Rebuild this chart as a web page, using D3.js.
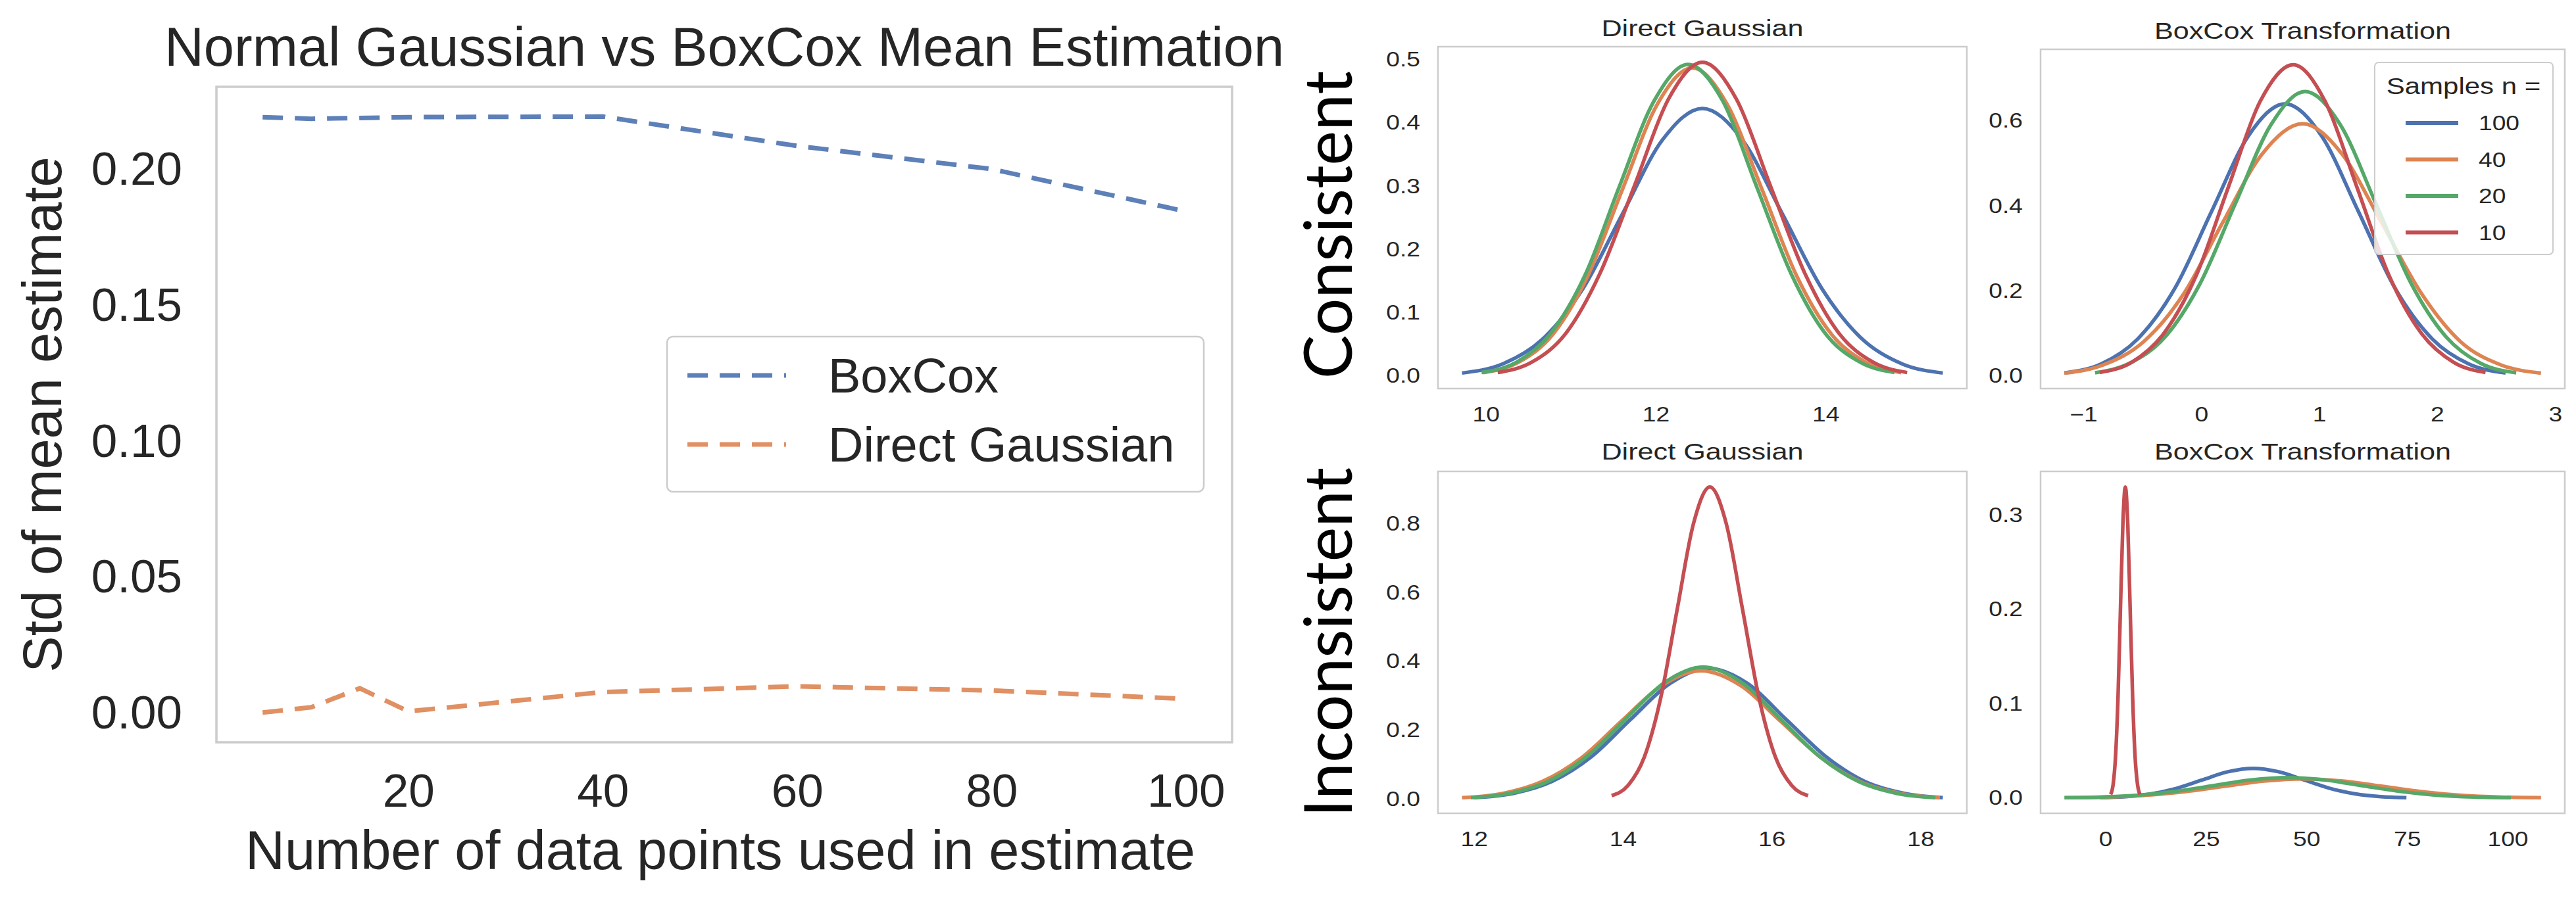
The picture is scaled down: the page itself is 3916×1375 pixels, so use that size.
<!DOCTYPE html>
<html>
<head>
<meta charset="utf-8">
<script src="https://cdn.jsdelivr.net/npm/d3@7"></script>
<style>
  body { margin: 0; background: #fff; }
</style>
</head>
<body>
<div id="chart"></div>
<script>
// ---- DATA ----

// left panel: std of the mean estimate vs number of points
const nPoints = [5, 10, 15, 20, 40, 60, 80, 100];
const boxcoxStd = [0.2193, 0.2187, 0.2190, 0.2193, 0.2195, 0.2087, 0.2002, 0.1846];
const directStd = [0.0003, 0.0022, 0.0092, 0.0007, 0.0078, 0.0099, 0.0084, 0.0053];
const leftSeries = ["BoxCox", "Direct Gaussian"];
const leftXTicks = [20, 40, 60, 80, 100];
const leftYTicks = [0, 0.05, 0.10, 0.15, 0.20];

// right panels: density curves, one per sample size, [x, density]
const sampleSizes = [100, 40, 20, 10];
const seriesColors = ["#4C72B0", "#DD8452", "#55A868", "#C44E52"];

const consDirect100 = [[9.72,0.0047],[10.19,0.0186],[10.66,0.0572],[11.14,0.1373],[11.61,0.2565],[12.08,0.3733],[12.55,0.423],[13.02,0.3733],[13.49,0.2565],[13.96,0.1373],[14.44,0.0572],[14.91,0.0186],[15.38,0.0047]];
const consDirect40 = [[9.97,0.0054],[10.38,0.0214],[10.79,0.0659],[11.20,0.1581],[11.61,0.2954],[12.02,0.4298],[12.43,0.487],[12.84,0.4298],[13.25,0.2954],[13.66,0.1581],[14.07,0.0659],[14.48,0.0214],[14.89,0.0054]];
const consDirect20 = [[9.95,0.0055],[10.36,0.0216],[10.76,0.0666],[11.17,0.1599],[11.57,0.2987],[11.98,0.4346],[12.38,0.4925],[12.79,0.4346],[13.19,0.2987],[13.60,0.1599],[14.00,0.0666],[14.41,0.0216],[14.81,0.0055]];
const consDirect10 = [[10.14,0.0055],[10.54,0.0218],[10.94,0.0671],[11.34,0.1611],[11.75,0.3008],[12.15,0.4377],[12.55,0.496],[12.95,0.4377],[13.35,0.3008],[13.76,0.1611],[14.16,0.0671],[14.56,0.0218],[14.96,0.0055]];

const consBoxcox100 = [[-1.16,0.0071],[-0.85,0.0281],[-0.54,0.0866],[-0.22,0.2078],[0.09,0.3882],[0.40,0.5648],[0.71,0.640],[1.02,0.5648],[1.33,0.3882],[1.64,0.2078],[1.96,0.0866],[2.27,0.0281],[2.58,0.0071]];
const consBoxcox40 = [[-1.16,0.0066],[-0.83,0.0260],[-0.49,0.0802],[-0.15,0.1925],[0.18,0.3597],[0.52,0.5233],[0.86,0.593],[1.19,0.5233],[1.53,0.3597],[1.87,0.1925],[2.20,0.0802],[2.54,0.0260],[2.88,0.0066]];
const consBoxcox20 = [[-0.90,0.0074],[-0.61,0.0294],[-0.31,0.0905],[-0.01,0.2172],[0.29,0.4057],[0.59,0.5904],[0.88,0.669],[1.18,0.5904],[1.48,0.4057],[1.78,0.2172],[2.08,0.0905],[2.37,0.0294],[2.67,0.0074]];
const consBoxcox10 = [[-0.86,0.0081],[-0.59,0.0321],[-0.32,0.0990],[-0.04,0.2377],[0.23,0.4440],[0.50,0.6460],[0.78,0.732],[1.05,0.6460],[1.32,0.4440],[1.59,0.2377],[1.87,0.0990],[2.14,0.0321],[2.41,0.0081]];

const inconsDirect100 = [[12.00,0.0042],[12.53,0.0167],[13.05,0.0514],[13.58,0.1234],[14.10,0.2305],[14.63,0.3354],[15.15,0.380],[15.68,0.3354],[16.20,0.2305],[16.73,0.1234],[17.25,0.0514],[17.78,0.0167],[18.30,0.0042]];
const inconsDirect40 = [[11.84,0.0041],[12.38,0.0164],[12.91,0.0505],[13.45,0.1211],[13.98,0.2262],[14.52,0.3292],[15.05,0.373],[15.59,0.3292],[16.12,0.2262],[16.66,0.1211],[17.19,0.0505],[17.73,0.0164],[18.26,0.0041]];
const inconsDirect20 = [[11.96,0.0043],[12.48,0.0168],[13.00,0.0519],[13.52,0.1246],[14.04,0.2327],[14.56,0.3385],[15.08,0.3836],[15.60,0.3385],[16.12,0.2327],[16.64,0.1246],[17.16,0.0519],[17.68,0.0168],[18.20,0.0043]];
const inconsDirect10 = [[13.85,0.0101],[14.07,0.0398],[14.29,0.1227],[14.51,0.2944],[14.73,0.5499],[14.95,0.8002],[15.17,0.9067],[15.39,0.8002],[15.61,0.5499],[15.83,0.2944],[16.05,0.1227],[16.27,0.0398],[16.49,0.0101]];

const inconsBoxcox100 = [[-1.35,0.00035],[5.00,0.00138],[11.35,0.00425],[17.70,0.0102],[24.05,0.0190],[30.40,0.0277],[36.75,0.0314],[43.10,0.0277],[49.45,0.0190],[55.80,0.0102],[62.15,0.00425],[68.50,0.00138],[74.85,0.00035]];
const inconsBoxcox40 = [[-9.90,0.00022],[-0.05,0.00089],[9.80,0.00274],[19.65,0.00658],[29.50,0.01228],[39.35,0.01787],[49.20,0.02025],[59.05,0.01787],[68.90,0.01228],[78.75,0.00658],[88.60,0.00274],[98.45,0.00089],[108.30,0.00022]];
const inconsBoxcox20 = [[-10.20,0.00024],[-0.95,0.00095],[8.30,0.00292],[17.55,0.0070],[26.80,0.01308],[36.05,0.01903],[45.30,0.02156],[54.55,0.01903],[63.80,0.01308],[73.05,0.0070],[82.30,0.00292],[91.55,0.00095],[100.80,0.00024]];
const inconsBoxcox10 = [[1.32,0.0037],[1.93,0.0145],[2.53,0.0446],[3.14,0.1071],[3.74,0.2000],[4.35,0.2910],[4.95,0.3297],[5.56,0.2910],[6.16,0.2000],[6.77,0.1071],[7.37,0.0446],[7.98,0.0145],[8.58,0.0037]];

const consDirectXTicks = [10, 12, 14];
const consDirectYTicks = [0, 0.1, 0.2, 0.3, 0.4, 0.5];
const consBoxcoxXTicks = [-1, 0, 1, 2, 3];
const consBoxcoxYTicks = [0, 0.2, 0.4, 0.6];
const inconsDirectXTicks = [12, 14, 16, 18];
const inconsDirectYTicks = [0, 0.2, 0.4, 0.6, 0.8];
const inconsBoxcoxXTicks = [0, 25, 50, 75, 100];
const inconsBoxcoxYTicks = [0, 0.1, 0.2, 0.3];

// ---- SETUP ----
const W = 3916, H = 1375;
const textColor = "#262626";
const frameColor = "#cccccc";
const sansFont = "'Liberation Sans', Arial, sans-serif";
// the right-hand figure in the reference is stretched sideways a bit
const SX = 1.2;

const svg = d3.select("#chart").append("svg")
    .attr("width", W)
    .attr("height", H)
    .style("background", "#fff");

// matplotlib style 5% margin around the data
const padded = ext => {
    const m = (ext[1] - ext[0]) * 0.05;
    return [ext[0] - m, ext[1] + m];
};

// ---- LEFT PANEL ----
const lf = { x: 329, y: 132, w: 1544, h: 997 };

const lx = d3.scaleLinear()
    .domain(padded(d3.extent(nPoints)))
    .range([lf.x, lf.x + lf.w]);
const ly = d3.scaleLinear()
    .domain(padded(d3.extent(boxcoxStd.concat(directStd))))
    .range([lf.y + lf.h, lf.y]);

svg.append("rect")
    .attr("x", lf.x).attr("y", lf.y)
    .attr("width", lf.w).attr("height", lf.h)
    .attr("fill", "none")
    .attr("stroke", frameColor)
    .attr("stroke-width", 3.5);

svg.append("g")
    .attr("transform", `translate(0,${lf.y + lf.h})`)
    .call(d3.axisBottom(lx).tickValues(leftXTicks).tickSize(0).tickPadding(48).tickFormat(d3.format("d")))
    .call(g => g.select(".domain").remove())
    .attr("font-size", 71)
    .attr("font-family", sansFont)
    .attr("color", textColor);

svg.append("g")
    .attr("transform", `translate(${lf.x},0)`)
    .call(d3.axisLeft(ly).tickValues(leftYTicks).tickSize(0).tickPadding(52).tickFormat(d3.format(".2f")))
    .call(g => g.select(".domain").remove())
    .attr("font-size", 71)
    .attr("font-family", sansFont)
    .attr("color", textColor);

const leftLine = d3.line()
    .x((d, i) => lx(nPoints[i]))
    .y(d => ly(d));

[boxcoxStd, directStd].forEach((vals, i) => {
    svg.append("path")
        .datum(vals)
        .attr("d", leftLine)
        .attr("fill", "none")
        .attr("stroke", seriesColors[i])
        .attr("stroke-opacity", 0.9)
        .attr("stroke-width", 7)
        .attr("stroke-dasharray", "31,18");
});

// title + axis labels
svg.append("text")
    .attr("x", lf.x + lf.w / 2).attr("y", 100)
    .attr("text-anchor", "middle")
    .attr("font-family", sansFont).attr("font-size", 83)
    .attr("fill", textColor)
    .text("Normal Gaussian vs BoxCox Mean Estimation");

svg.append("text")
    .attr("x", lf.x + lf.w / 2 - 6).attr("y", 1322)
    .attr("text-anchor", "middle")
    .attr("font-family", sansFont).attr("font-size", 83)
    .attr("fill", textColor)
    .text("Number of data points used in estimate");

svg.append("text")
    .attr("transform", `translate(93,${lf.y + lf.h / 2}) rotate(-90)`)
    .attr("text-anchor", "middle")
    .attr("font-family", sansFont).attr("font-size", 83)
    .attr("fill", textColor)
    .text("Std of mean estimate");

// legend
const leftLegend = svg.append("g");
leftLegend.append("rect")
    .attr("x", 1014).attr("y", 512)
    .attr("width", 816).attr("height", 236)
    .attr("rx", 9)
    .attr("fill", "#fff").attr("fill-opacity", 0.8)
    .attr("stroke", frameColor).attr("stroke-width", 2.5);

leftSeries.forEach((name, i) => {
    const yy = 571 + i * 105;
    leftLegend.append("line")
        .attr("x1", 1045).attr("x2", 1195)
        .attr("y1", yy).attr("y2", yy)
        .attr("stroke", seriesColors[i])
        .attr("stroke-opacity", 0.9)
        .attr("stroke-width", 7)
        .attr("stroke-dasharray", "31,18");
    leftLegend.append("text")
        .attr("x", 1259).attr("y", yy + 26)
        .attr("font-family", sansFont).attr("font-size", 74)
        .attr("fill", textColor)
        .text(name);
});

// ---- RIGHT PANELS ----
const panels = [
    { frame: { x: 2186, y: 71, w: 804, h: 520 }, curves: [consDirect100, consDirect40, consDirect20, consDirect10],
      xTicks: consDirectXTicks, yTicks: consDirectYTicks, title: "Direct Gaussian", titleY: 55 },
    { frame: { x: 3102, y: 75, w: 797, h: 516 }, curves: [consBoxcox100, consBoxcox40, consBoxcox20, consBoxcox10],
      xTicks: consBoxcoxXTicks, yTicks: consBoxcoxYTicks, title: "BoxCox Transformation", titleY: 59, legend: true },
    { frame: { x: 2186, y: 717, w: 804, h: 520 }, curves: [inconsDirect100, inconsDirect40, inconsDirect20, inconsDirect10],
      xTicks: inconsDirectXTicks, yTicks: inconsDirectYTicks, title: "Direct Gaussian", titleY: 699 },
    { frame: { x: 3102, y: 717, w: 797, h: 520 }, curves: [inconsBoxcox100, inconsBoxcox40, inconsBoxcox20, inconsBoxcox10],
      xTicks: inconsBoxcoxXTicks, yTicks: inconsBoxcoxYTicks, title: "BoxCox Transformation", titleY: 699 }
];

// stretch tick labels sideways, keep their anchor point where d3 put it
const stretchTicks = g => {
    g.selectAll(".tick text").each(function () {
        const t = d3.select(this);
        t.attr("x", (+t.attr("x") || 0) / SX)
         .attr("transform", `scale(${SX},1)`);
    });
};

panels.forEach(p => {
    const f = p.frame;
    const allPts = p.curves.flat();

    const x = d3.scaleLinear()
        .domain(padded(d3.extent(allPts, d => d[0])))
        .range([f.x, f.x + f.w]);
    const y = d3.scaleLinear()
        .domain(padded(d3.extent(allPts, d => d[1])))
        .range([f.y + f.h, f.y]);

    svg.append("rect")
        .attr("x", f.x).attr("y", f.y)
        .attr("width", f.w).attr("height", f.h)
        .attr("fill", "none")
        .attr("stroke", frameColor)
        .attr("stroke-width", 2.5);

    svg.append("g")
        .attr("transform", `translate(0,${f.y + f.h})`)
        .call(d3.axisBottom(x).tickValues(p.xTicks).tickSize(0).tickPadding(28).tickFormat(d3.format("d")))
        .call(g => g.select(".domain").remove())
        .call(stretchTicks)
        .attr("font-size", 31)
        .attr("font-family", sansFont)
        .attr("color", textColor);

    svg.append("g")
        .attr("transform", `translate(${f.x},0)`)
        .call(d3.axisLeft(y).tickValues(p.yTicks).tickSize(0).tickPadding(27).tickFormat(d3.format(".1f")))
        .call(g => g.select(".domain").remove())
        .call(stretchTicks)
        .attr("font-size", 31)
        .attr("font-family", sansFont)
        .attr("color", textColor);

    const curve = d3.line()
        .x(d => x(d[0]))
        .y(d => y(d[1]))
        .curve(d3.curveMonotoneX);

    p.curves.forEach((pts, i) => {
        svg.append("path")
            .datum(pts)
            .attr("d", curve)
            .attr("fill", "none")
            .attr("stroke", seriesColors[i])
            .attr("stroke-width", 5.5)
            .attr("stroke-linejoin", "round");
    });

    svg.append("text")
        .attr("transform", `translate(${f.x + f.w / 2},${p.titleY}) scale(${SX},1)`)
        .attr("text-anchor", "middle")
        .attr("font-family", sansFont).attr("font-size", 36)
        .attr("fill", textColor)
        .text(p.title);

    if (p.legend) {
        const lg = svg.append("g");
        lg.append("rect")
            .attr("x", 3610).attr("y", 95)
            .attr("width", 271).attr("height", 292)
            .attr("rx", 6)
            .attr("fill", "#fff").attr("fill-opacity", 0.8)
            .attr("stroke", frameColor).attr("stroke-width", 2);
        lg.append("text")
            .attr("transform", `translate(3745,143) scale(${SX},1)`)
            .attr("text-anchor", "middle")
            .attr("font-family", sansFont).attr("font-size", 35)
            .attr("fill", textColor)
            .text("Samples n =");
        sampleSizes.forEach((n, i) => {
            const yy = 187 + i * 55.5;
            lg.append("line")
                .attr("x1", 3657).attr("x2", 3737)
                .attr("y1", yy).attr("y2", yy)
                .attr("stroke", seriesColors[i])
                .attr("stroke-width", 6);
            lg.append("text")
                .attr("transform", `translate(3768,${yy + 11}) scale(${SX},1)`)
                .attr("font-family", sansFont).attr("font-size", 31)
                .attr("fill", textColor)
                .text(n);
        });
    }
});

// row labels
[["Consistent", 342], ["Inconsistent", 977]].forEach(([label, cy]) => {
    svg.append("text")
        .attr("transform", `translate(2055,${cy}) rotate(-90)`)
        .attr("text-anchor", "middle")
        .attr("font-family", "Lato, 'Open Sans', sans-serif")
        .attr("font-size", 100)
        .attr("fill", "#000")
        .text(label);
});
</script>
</body>
</html>
